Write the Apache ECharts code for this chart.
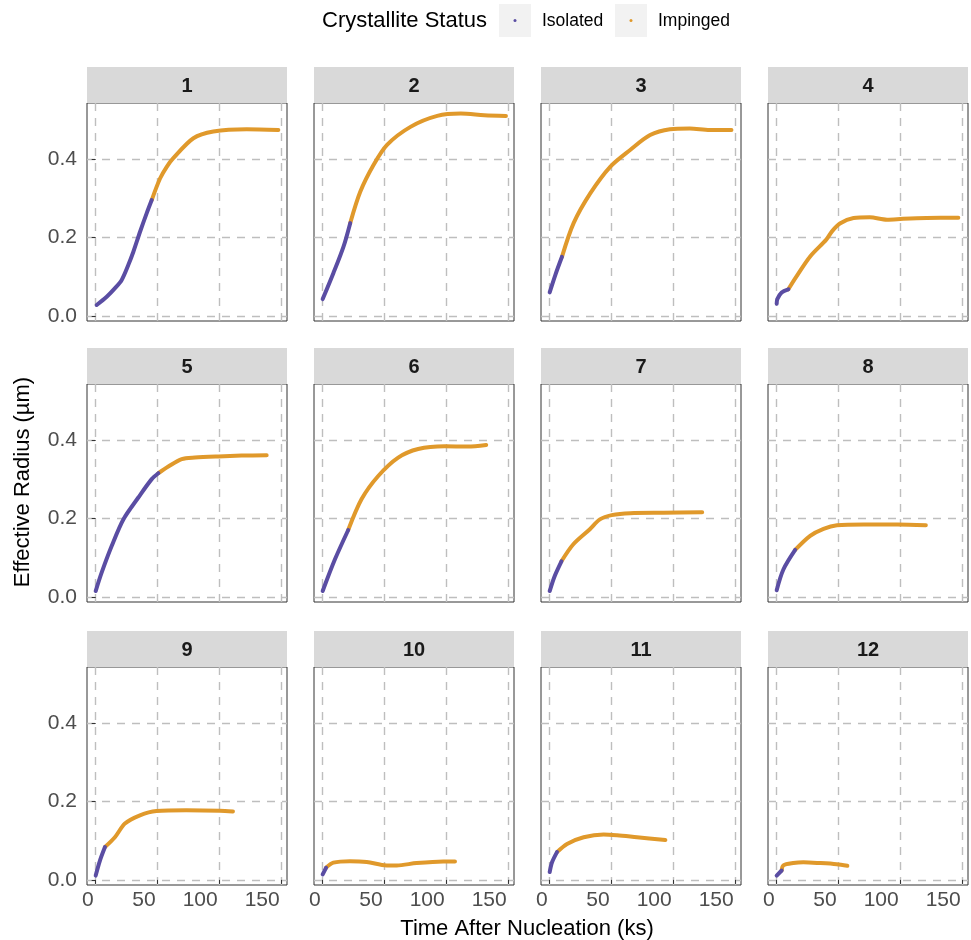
<!DOCTYPE html>
<html><head><meta charset="utf-8">
<script src="https://cdn.jsdelivr.net/npm/echarts@6/dist/echarts.min.js"></script>
<style>html,body{margin:0;padding:0;background:#fff}#c{width:971px;height:940px}</style>
</head><body><div id="c"></div>
<script>
const panelLabels = ['1','2','3','4','5','6','7','8','9','10','11','12'];
const xTicks = [0, 50, 100, 150];
const yTicks = [0, 0.2, 0.4];
const statusNames = ['Isolated', 'Impinged'];

const iso1 = [[0.8,0.028],[8.9,0.049],[15.6,0.071],[21,0.092],[26.3,0.13],[30.4,0.164],[35.8,0.215],[41.1,0.262],[45.2,0.296]];
const imp1 = [[45.2,0.296],[51.9,0.351],[57.3,0.381],[62.6,0.403],[78.8,0.454],[94.9,0.471],[121.8,0.477],[147.3,0.475]];
const iso2 = [[0,0.043],[8.6,0.109],[16.8,0.177],[22.2,0.237]];
const imp2 = [[22.2,0.237],[30.3,0.317],[41.1,0.386],[51.9,0.437],[70.8,0.483],[92.4,0.511],[111.4,0.517],[130.3,0.513],[147.8,0.511]];
const iso3 = [[0,0.06],[4.6,0.105],[9.9,0.151]];
const imp3 = [[9.9,0.151],[19.3,0.237],[32.7,0.313],[48.8,0.381],[64.9,0.424],[81,0.462],[97,0.477],[113,0.479],[129,0.475],[146.6,0.475]];
const iso4 = [[0,0.031],[0.5,0.043],[4,0.06],[9.4,0.068]];
const imp4 = [[9.4,0.068],[16,0.101],[27,0.152],[40,0.195],[44.6,0.216],[51,0.236],[62,0.25],[75,0.252],[89,0.246],[102,0.248],[121,0.25],[146.5,0.251]];
const iso5 = [[0,0.015],[4.8,0.062],[12.9,0.13],[22.3,0.198],[34.4,0.254],[45.2,0.301],[50.5,0.316]];
const imp5 = [[50.5,0.316],[58.6,0.333],[69.4,0.352],[80,0.356],[98.9,0.359],[117.7,0.361],[137.9,0.362]];
const iso6 = [[0,0.015],[9.9,0.096],[20.6,0.171]];
const imp6 = [[20.6,0.171],[31.4,0.25],[44.8,0.309],[60.9,0.356],[77,0.378],[98.4,0.385],[117,0.384],[131.9,0.388]];
const iso7 = [[0,0.015],[4,0.053],[9.5,0.091]];
const imp7 = [[9.5,0.091],[18.9,0.134],[32.4,0.173],[40.5,0.198],[50,0.209],[64.9,0.214],[91.9,0.215],[123,0.216]];
const iso8 = [[0,0.017],[5.4,0.07],[14.9,0.12]];
const imp8 = [[14.9,0.12],[27,0.156],[37.8,0.174],[48.6,0.183],[70.3,0.185],[97.3,0.185],[120.3,0.183]];
const iso9 = [[0,0.011],[3.5,0.05],[7.5,0.084]];
const imp9 = [[7.5,0.084],[15.5,0.109],[23.6,0.144],[35.7,0.165],[49,0.176],[73,0.178],[100,0.177],[110.7,0.175]];
const iso10 = [[0,0.014],[2.7,0.031]];
const imp10 = [[2.7,0.031],[8.6,0.044],[22,0.048],[35.5,0.046],[51.6,0.037],[59.7,0.037],[75.8,0.043],[97.3,0.047],[106.7,0.047]];
const iso11 = [[0,0.02],[1.9,0.045],[5.9,0.071]];
const imp11 = [[5.9,0.071],[14,0.092],[27.4,0.109],[43.5,0.116],[54.3,0.114],[70.4,0.109],[93.3,0.102]];
const iso12 = [[0,0.011],[4,0.024]];
const imp12 = [[4,0.024],[5.4,0.037],[13.4,0.043],[21.5,0.045],[35,0.043],[48.4,0.04],[57,0.036]];

const isoData = [iso1,iso2,iso3,iso4,iso5,iso6,iso7,iso8,iso9,iso10,iso11,iso12];
const impData = [imp1,imp2,imp3,imp4,imp5,imp6,imp7,imp8,imp9,imp10,imp11,imp12];

const PURPLE = '#5A4DA3';
const ORANGE = '#E0992B';
const FONT = 'Liberation Sans, Arial, sans-serif';
const colLeft = [87, 314, 541, 768];
const rowTop = [103, 384, 667];
const PW = 200, PH = 218, SH = 36;

const grids = [], xAxes = [], yAxes = [], series = [], graphics = [];
const gridLine = {show: true, lineStyle: {type: [8, 7], color: '#BEBEBE', width: 1.4}};

for (let i = 0; i < 12; i++) {
  const r = Math.floor(i / 4), c = i % 4;
  const left = colLeft[c], top = rowTop[r];
  grids.push({left, top, width: PW, height: PH, show: true, borderColor: '#333333', borderWidth: 1, backgroundColor: '#fff', containLabel: false});
  xAxes.push({
    type: 'value', gridIndex: i, min: -7, max: 154.3,
    axisLine: {show: false},
    axisTick: {show: r === 2, length: 4, lineStyle: {color: '#333333'}, customValues: xTicks},
    axisLabel: {show: r === 2, customValues: xTicks, align: 'right', margin: 5, padding: [0, 2, 0, 0], fontSize: 21, color: '#4D4D4D', fontFamily: FONT},
    splitLine: gridLine
  });
  yAxes.push({
    type: 'value', gridIndex: i, min: -0.013, max: 0.544,
    axisLine: {show: false},
    axisTick: {show: c === 0, length: 4, lineStyle: {color: '#333333'}, customValues: yTicks},
    axisLabel: {show: c === 0, customValues: yTicks, margin: 10, fontSize: 21, color: '#4D4D4D', fontFamily: FONT, formatter: v => v.toFixed(1)},
    splitLine: gridLine
  });
  series.push({
    name: statusNames[0], type: 'line', xAxisIndex: i, yAxisIndex: i, data: isoData[i],
    showSymbol: false, smooth: 0.3, lineStyle: {width: 4, color: PURPLE, cap: 'round', join: 'round'}, silent: true, z: 3
  });
  series.push({
    name: statusNames[1], type: 'line', xAxisIndex: i, yAxisIndex: i, data: impData[i],
    showSymbol: false, smooth: 0.3, lineStyle: {width: 4, color: ORANGE, cap: 'round', join: 'round'}, silent: true, z: 2
  });
  graphics.push({type: 'rect', shape: {x: left, y: top - SH, width: PW, height: SH}, style: {fill: '#D9D9D9'}, silent: true});
  graphics.push({type: 'text', x: left + PW / 2, y: top - SH / 2 + 1, style: {text: panelLabels[i], fill: '#1A1A1A', font: 'bold 20px ' + FONT, align: 'center', verticalAlign: 'middle'}, silent: true});
}

// axis titles
graphics.push({type: 'text', x: 527, y: 929, style: {text: 'Time After Nucleation (ks)', fill: '#000', font: '22px ' + FONT, align: 'center', verticalAlign: 'middle'}, silent: true});
graphics.push({type: 'text', x: 23, y: 482, rotation: Math.PI / 2, style: {text: 'Effective Radius (µm)', fill: '#000', font: '22px ' + FONT, align: 'center', verticalAlign: 'middle'}, silent: true});

// legend
graphics.push({type: 'text', x: 322, y: 21, style: {text: 'Crystallite Status', fill: '#000', font: '22px ' + FONT, align: 'left', verticalAlign: 'middle'}, silent: true});
const keyX = [499, 615], labX = [542, 658], keyCol = [PURPLE, ORANGE];
for (let k = 0; k < 2; k++) {
  graphics.push({type: 'rect', shape: {x: keyX[k], y: 4, width: 32, height: 33}, style: {fill: '#F2F2F2'}, silent: true});
  graphics.push({type: 'circle', shape: {cx: keyX[k] + 16, cy: 20.5, r: 1.5}, style: {fill: keyCol[k]}, silent: true});
  graphics.push({type: 'text', x: labX[k], y: 21, style: {text: statusNames[k], fill: '#000', font: '17.5px ' + FONT, align: 'left', verticalAlign: 'middle'}, silent: true});
}

const chart = echarts.init(document.getElementById('c'), null, {renderer: 'canvas'});
chart.setOption({
  animation: false,
  backgroundColor: '#fff',
  grid: grids, xAxis: xAxes, yAxis: yAxes, series: series,
  graphic: graphics
});
</script></body></html>
